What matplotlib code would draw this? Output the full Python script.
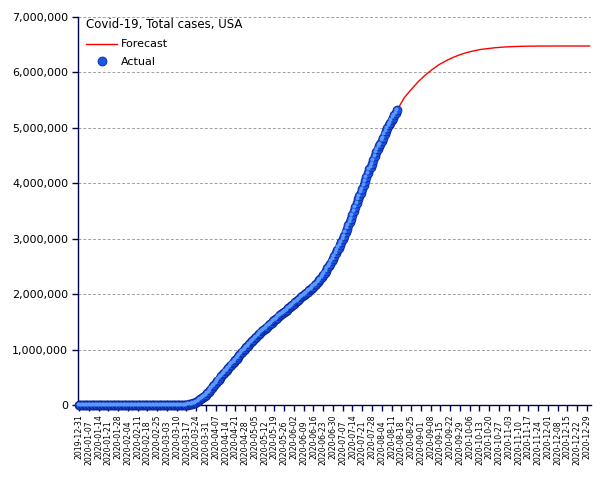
import matplotlib
matplotlib.use("Agg")
import matplotlib.pyplot as plt
import matplotlib.transforms as mtransforms
from matplotlib.ticker import FuncFormatter
import numpy as np
import pandas as pd

# daily cumulative cases, 2019-12-31 .. 2020-08-15
before_march = [0] * 21 + [1, 1, 1, 2, 2, 5, 5, 5, 5, 5, 6] + \
    [7, 8, 11, 11, 11, 11, 12, 12, 12, 12, 12, 13, 13, 14, 15, 15, 15, 15, 15, 15,
     15, 35, 35, 35, 53, 53, 59, 60, 62]
march = [75, 100, 124, 158, 221, 319, 435, 541, 704, 994, 1301, 1630, 2183, 2770,
         3613, 4596, 6344, 9197, 13779, 19367, 24192, 33592, 43781, 54856, 68211,
         85435, 104126, 123578, 142460, 163788, 188172]
april = [213372, 243453, 275586, 308850, 337072, 366667, 396223, 429052, 461437,
         496535, 526396, 555313, 580619, 607670, 636350, 667801, 699706, 732197,
         759086, 784326, 811865, 840351, 869170, 905358, 938154, 965785, 988197,
         1012582, 1039909, 1069424]
may = [1103461, 1132539, 1158040, 1180375, 1204351, 1229331, 1257023, 1283929,
       1309550, 1329260, 1347881, 1369376, 1390406, 1417774, 1442824, 1467820,
       1486757, 1508308, 1528568, 1551853, 1577147, 1600937, 1622612, 1643246,
       1662302, 1680913, 1699933, 1721750, 1747087, 1770384, 1790191]
june = [1811277, 1831821, 1851520, 1872660, 1897380, 1920061, 1942363, 1961185,
        1979850, 2000702, 2023347, 2048986, 2074526, 2094069, 2114026, 2137731,
        2163290, 2191052, 2222579, 2255119, 2280912, 2312302, 2347102, 2381369,
        2422312, 2467554, 2510259, 2549294, 2590582, 2636414]
july = [2687588, 2739879, 2795361, 2841241, 2891124, 2936077, 2996098, 3054699,
        3117946, 3184573, 3245925, 3308815, 3363056, 3431574, 3498902, 3576157,
        3647715, 3711413, 3773260, 3834135, 3898550, 3970121, 4038816, 4112531,
        4178970, 4249584, 4294770, 4351997, 4426982, 4495224, 4562038]
august = [4620444, 4667955, 4713540, 4771087, 4823890, 4883657, 4941755, 5000603,
          5045564, 5094400, 5141208, 5187000, 5230000, 5275000, 5320000]
actual = before_march + march + april + may + june + july + august

# forecast (day index from 2019-12-31, cases)
fc_days = [228, 233, 238, 243, 248, 253, 258, 263, 268, 273, 278, 283, 288, 293,
           298, 303, 308, 313, 318, 323, 333, 343, 353, 366]
fc_values = [5320000, 5540000, 5690000, 5830000, 5950000, 6050000, 6140000, 6210000,
             6270000, 6320000, 6360000, 6390000, 6415000, 6430000, 6445000, 6455000,
             6463000, 6468000, 6472000, 6474000, 6476000, 6477000, 6477000, 6477000]

tick_dates = pd.date_range("2019-12-31", "2020-12-29", freq="7D")

navy = "#00004a"
fig = plt.figure(figsize=(6.05, 4.8), dpi=100)
ax = fig.add_axes([0.129, 0.156, 0.848, 0.8086])

days = np.arange(len(actual))
ax.plot(fc_days, fc_values, color="red", lw=1.0, zorder=2, label="Forecast")
ax.plot(days, actual, ls="none", marker="o", ms=6.4, mfc="#1c56e8", mec="#0a2296",
        mew=0.6, zorder=3, label="Actual", clip_on=False)
hl = mtransforms.offset_copy(ax.transData, fig=fig, x=-0.8, y=0.8, units="points")
ax.plot(days, actual, ls="none", marker="o", ms=2.8, mfc="#5a9aff", mec="none",
        zorder=4, transform=hl, clip_on=False)

ax.set_xlim(-0.7, 367)
ax.set_ylim(0, 7000000)
ax.set_yticks(np.arange(0, 7000001, 1000000))
ax.yaxis.set_major_formatter(FuncFormatter(lambda v, p: f"{int(v):,}"))
ax.grid(axis="y", color="#a0a0a0", ls=(0, (3, 2)), lw=0.7)
ax.set_axisbelow(True)

tick_days = [(d - tick_dates[0]).days for d in tick_dates]
labels = [d.strftime("%Y-%m-%d") for d in tick_dates]
ax.set_xticks(tick_days[0::2])
ax.set_xticklabels(labels[0::2], rotation=90)
ax.set_xticks(tick_days[1::2], minor=True)
ax.set_xticklabels(labels[1::2], rotation=90, minor=True)
ax.tick_params(axis="x", which="major", length=4, width=1, color=navy, pad=2.5,
               labelsize=5.6)
ax.tick_params(axis="x", which="minor", length=4, width=1, color=navy, pad=7,
               labelsize=5.6)
ax.tick_params(axis="y", length=4, width=1, color=navy, pad=3, labelsize=8)

for s in ["top", "right"]:
    ax.spines[s].set_visible(False)
for s in ["left", "bottom"]:
    ax.spines[s].set_color(navy)
    ax.spines[s].set_linewidth(1.0)
    ax.spines[s].set_zorder(2.5)

leg = ax.legend(loc="upper left", frameon=False, title="Covid-19, Total cases, USA",
                fontsize=8, title_fontsize=8.5, handlelength=2.8, handletextpad=0.3,
                labelspacing=0.7, borderpad=0.0, borderaxespad=0.0,
                bbox_to_anchor=(0.016, 0.997))
leg._legend_box.align = "left"
leg._legend_box.sep = 6

fig.savefig("out.png", dpi=100)
